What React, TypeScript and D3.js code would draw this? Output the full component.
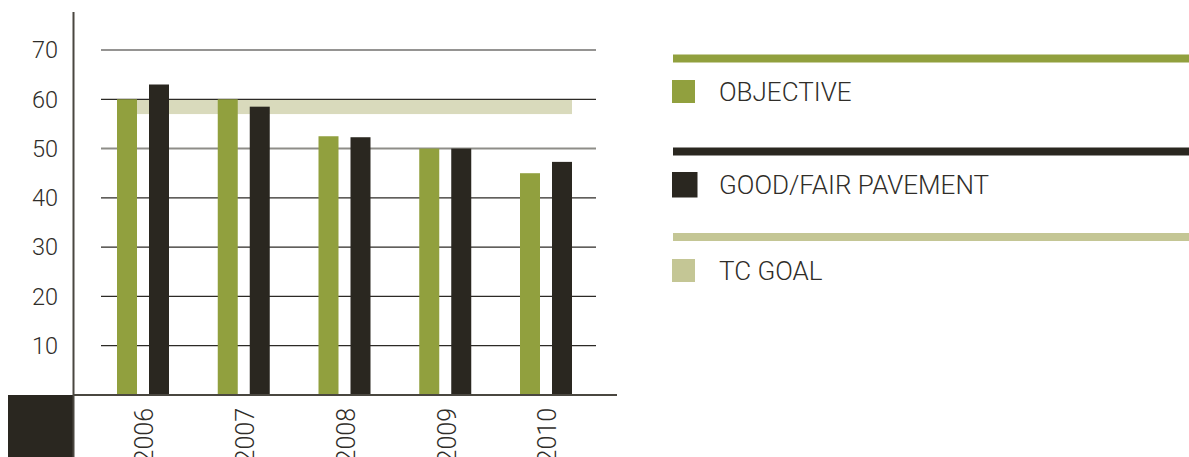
import React from "react";
import * as d3 from "d3";

const years = ["2006", "2007", "2008", "2009", "2010"];
const objective = [60, 60, 52.5, 50, 45];
const goodFair = [63, 58.5, 52.3, 50, 47.3];
const tcGoalRange = [57, 60];
const yTicks = [10, 20, 30, 40, 50, 60, 70];
const seriesKeys = ["objective", "goodFair"];
const legendItems = [
  { label: "OBJECTIVE", color: "#91a03e" },
  { label: "GOOD/FAIR PAVEMENT", color: "#2a2720" },
  { label: "TC GOAL", color: "#c4c695" },
];

const GREEN = "#91a03e";
const DARK = "#2a2720";
const BAND = "#d9dabc";
const TEXT = "#2f2d29";
const FONT = "Roboto, 'Liberation Sans', Arial, sans-serif";

export default function App() {
  const W = 1189;
  const H = 457;
  const y = d3.scaleLinear().domain([0, 70]).range([395, 50]);
  const x = d3.scalePoint<string>().domain(years).range([143, 546]);
  const sub = d3
    .scaleBand<string>()
    .domain(seriesKeys)
    .range([-26, 26])
    .paddingInner(0.375);
  const bw = sub.bandwidth();
  const firstLeft = (x(years[0]) ?? 0) + (sub("objective") ?? 0);
  const lastRight = (x(years[years.length - 1]) ?? 0) + (sub("goodFair") ?? 0) + bw;

  return (
    <svg
      width={W}
      height={H}
      style={{ position: "absolute", left: 0, top: 0, display: "block", background: "#fff" }}
      fontFamily={FONT}
    >
      {/* TC goal band */}
      <rect
        x={firstLeft}
        y={y(tcGoalRange[1])}
        width={lastRight - firstLeft}
        height={y(tcGoalRange[0]) - y(tcGoalRange[1])}
        fill={BAND}
      />
      {/* gridlines */}
      {yTicks.map((t) => (
        <line
          key={t}
          x1={101}
          x2={596}
          y1={y(t)}
          y2={y(t)}
          stroke={t === 50 ? "#8e8d88" : "#2c2a26"}
          strokeWidth={t === 50 ? 2 : 1.2}
        />
      ))}
      {/* y tick labels */}
      {yTicks.map((t) => (
        <text
          key={"l" + t}
          x={58}
          y={y(t)}
          dy="0.35em"
          textAnchor="end"
          fontSize={23.5}
          fontWeight={300}
          fill={TEXT}
        >
          {t}
        </text>
      ))}
      {/* bars */}
      {years.map((yr, i) => {
        const cx = x(yr) ?? 0;
        return (
          <g key={yr}>
            <rect
              x={cx + (sub("objective") ?? 0)}
              y={y(objective[i])}
              width={bw}
              height={y(0) - y(objective[i])}
              fill={GREEN}
            />
            <rect
              x={cx + (sub("goodFair") ?? 0)}
              y={y(goodFair[i])}
              width={bw}
              height={y(0) - y(goodFair[i])}
              fill={DARK}
            />
          </g>
        );
      })}
      {/* axes */}
      <rect x={8} y={y(0)} width={65.5} height={H - y(0)} fill={DARK} />
      <line x1={73.5} x2={73.5} y1={12} y2={H} stroke="#4a4740" strokeWidth={2} />
      <line x1={73} x2={617} y1={y(0)} y2={y(0)} stroke="#4a4740" strokeWidth={2} />
      {/* year labels */}
      {years.map((yr) => (
        <text
          key={"x" + yr}
          transform={`translate(${(x(yr) ?? 0) + 1.5},408) rotate(-90)`}
          textAnchor="end"
          dy="0.35em"
          fontSize={25}
          fontWeight={300}
          fill={TEXT}
        >
          {yr}
        </text>
      ))}
      {/* legend */}
      {legendItems.map((it, i) => {
        const lineY = [58.5, 151.5, 237][i];
        const sqY = [80, 172, 259][i];
        const sqS = i === 1 ? 25.5 : 23;
        return (
          <g key={it.label}>
            <rect x={673} y={lineY - 4} width={W - 673} height={8} fill={it.color} />
            <rect
              x={i === 1 ? 672 : 672}
              y={sqY}
              width={sqS}
              height={sqS}
              fill={it.color}
            />
            <text
              x={719}
              y={sqY + sqS / 2}
              dy="0.35em"
              fontSize={26}
              fontWeight={300}
              fill={TEXT}
            >
              {it.label}
            </text>
          </g>
        );
      })}
    </svg>
  );
}
